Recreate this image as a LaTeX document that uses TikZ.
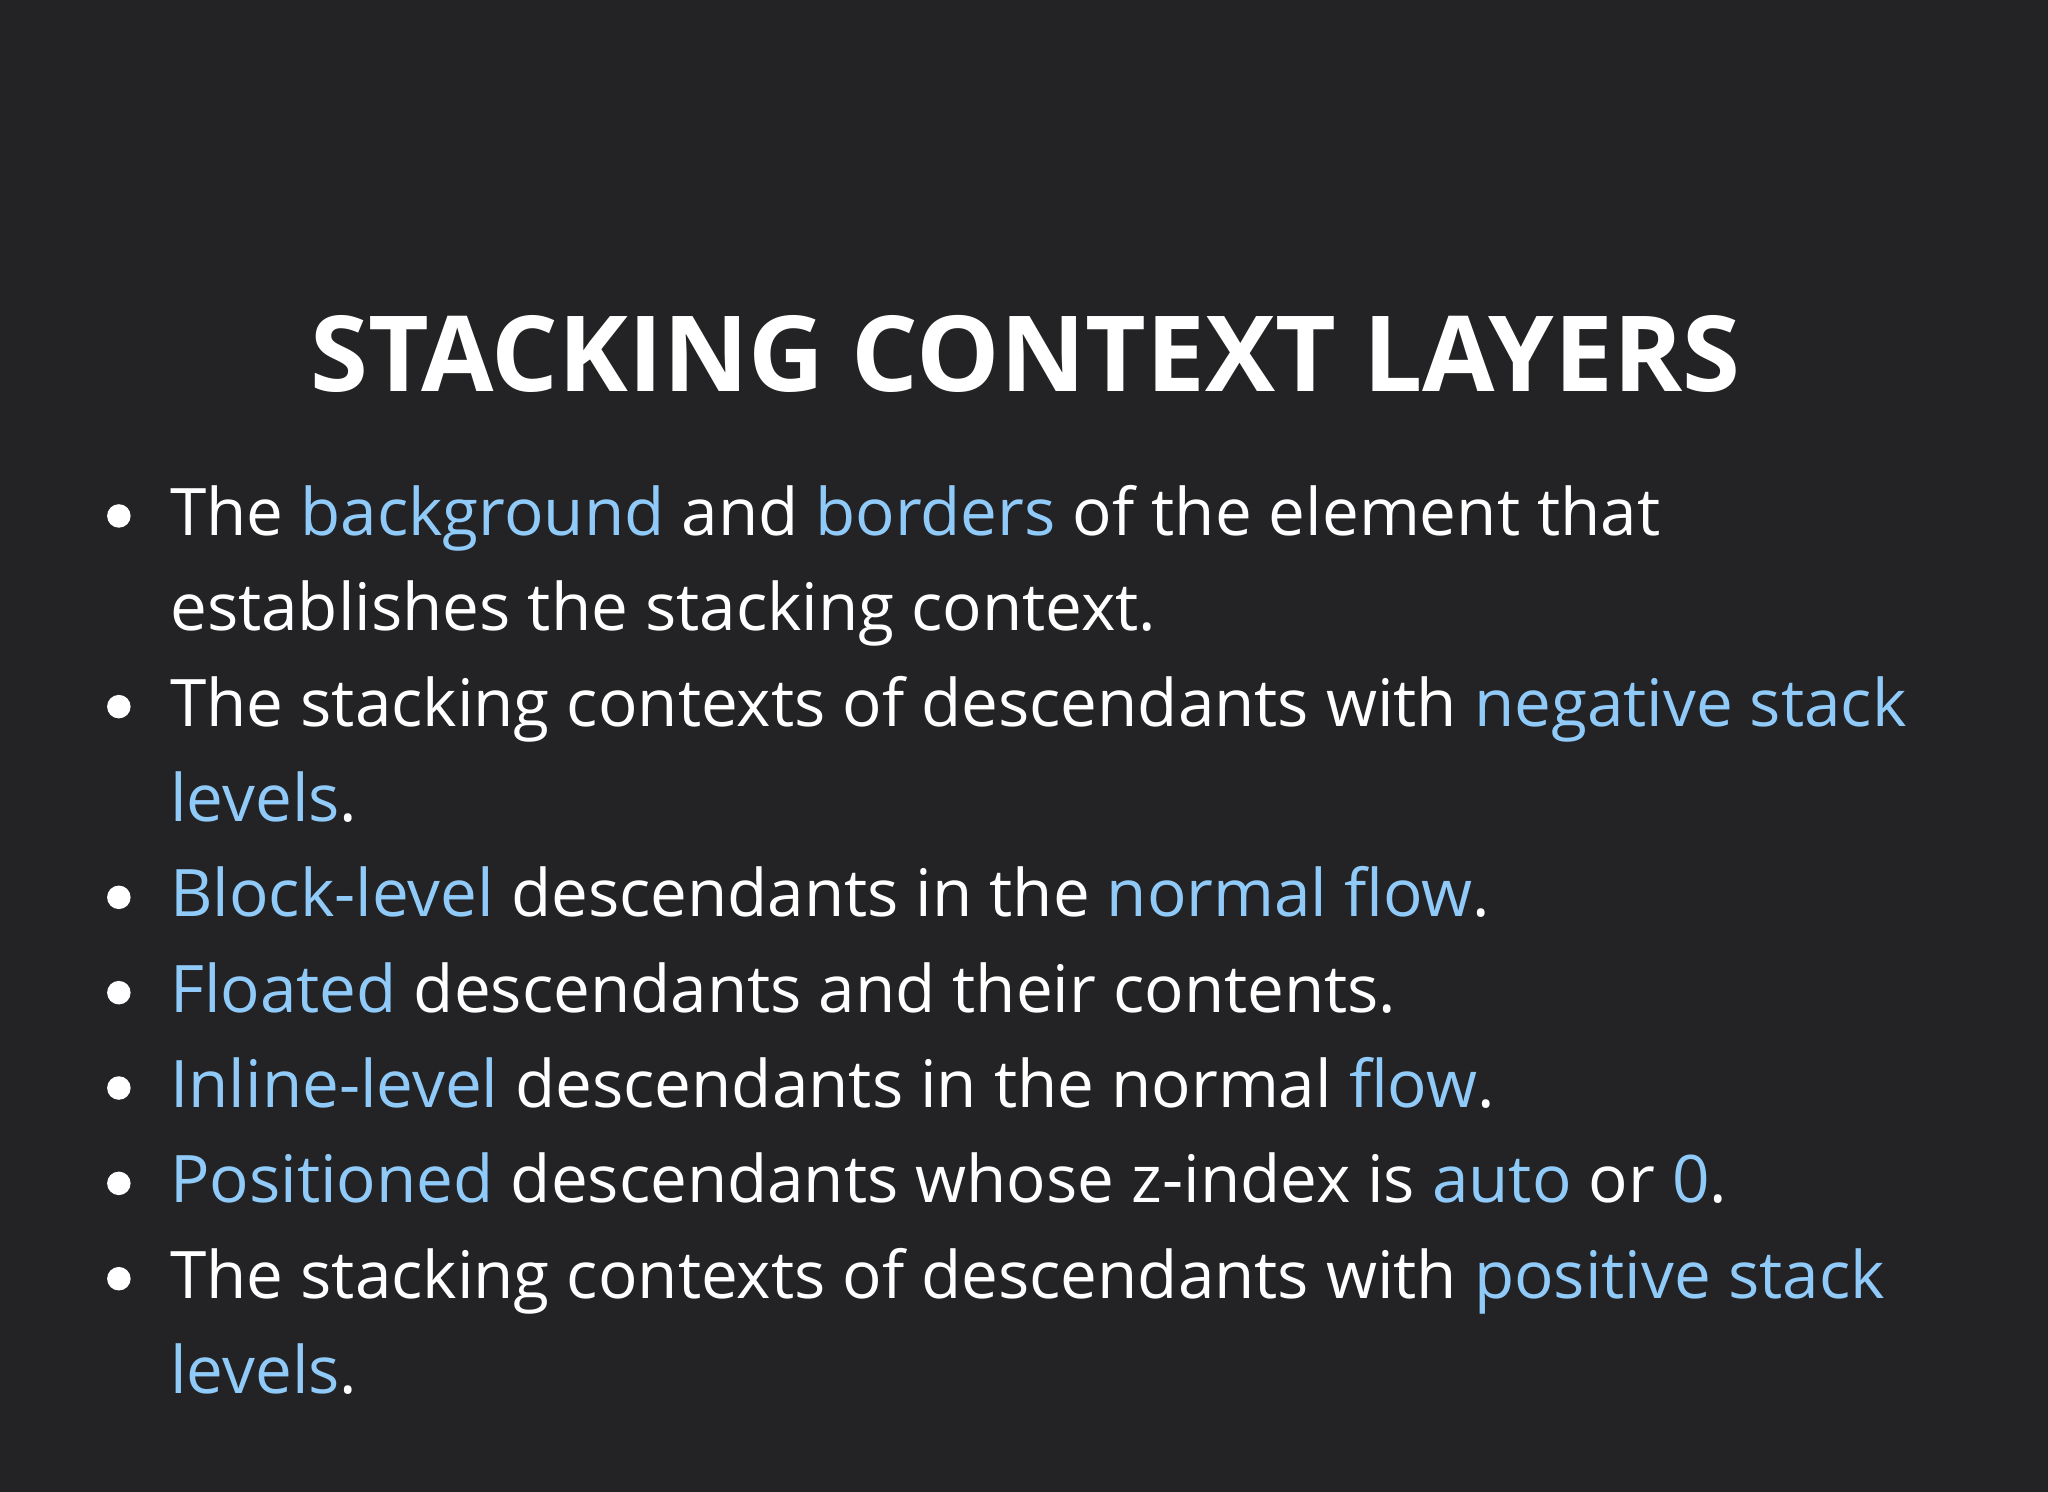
\documentclass[tikz,border=0pt]{standalone}
\usepackage{fontspec}
\setmainfont{Open Sans}
\definecolor{bg}{HTML}{232325}
\definecolor{hl}{HTML}{90CAF9}
\begin{document}
\begin{tikzpicture}[x=0.5pt,y=-0.5pt,
  line/.style={anchor=base west,inner sep=0,text=white,font=\fontsize{25.1}{29}\selectfont},
  dot/.style={circle,fill=white,inner sep=0,minimum size=9pt}]
\fill[bg] (0,0) rectangle (1568,1142);
\useasboundingbox (0,0) rectangle (1568,1142);
\newcommand{\hb}[1]{\textcolor{hl}{#1}}
\node[anchor=base,inner sep=0,text=white,font=\fontsize{40.2}{46}\selectfont\bfseries] (title) at (785,300) {STACKING CONTEXT LAYERS};
\foreach \y [count=\i] in {410,556,702,775,848,921,994}{
  \node[dot] (b\i) at (91,\y-15) {};
}
\node[line] (l1) at (130,410) {The \hb{background} and \hb{borders} of the element that};
\node[line] (l2) at (130,483) {establishes the stacking context.};
\node[line] (l3) at (130,556) {The stacking contexts of descendants with \hb{negative stack}};
\node[line] (l4) at (130,629) {\hb{levels}.};
\node[line] (l5) at (130,702) {\hb{Block-level} descendants in the \hb{normal flow}.};
\node[line] (l6) at (130,775) {\hb{Floated} descendants and their contents.};
\node[line] (l7) at (130,848) {\hb{Inline-level} descendants in the normal \hb{flow}.};
\node[line] (l8) at (130,921) {\hb{Positioned} descendants whose z-index is \hb{auto} or \hb{0}.};
\node[line] (l9) at (130,994) {The stacking contexts of descendants with \hb{positive stack}};
\node[line] (l10) at (130,1067) {\hb{levels}.};
\end{tikzpicture}
\end{document}
